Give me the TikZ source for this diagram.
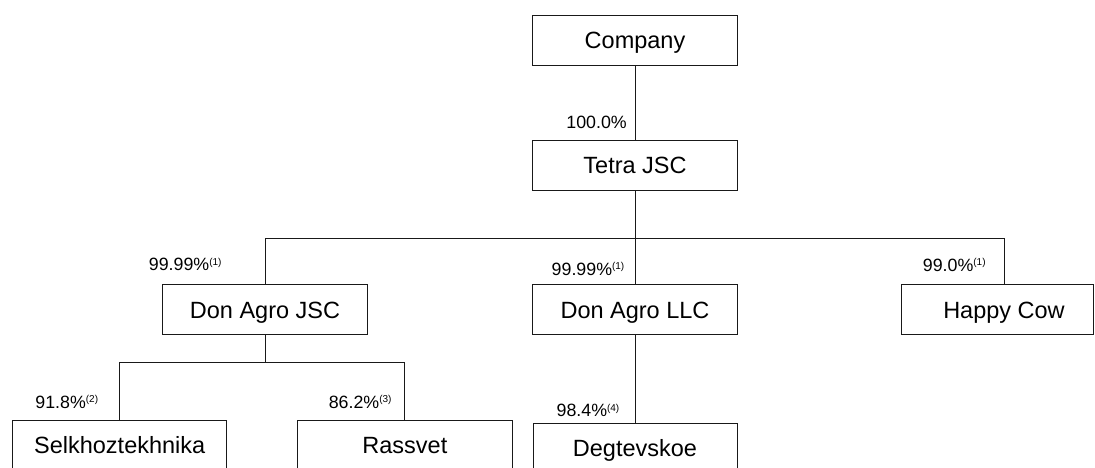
\documentclass[tikz,border=0pt]{standalone}
\usepackage{fontspec}
\setmainfont{Liberation Sans}
\newcommand\fnref[1]{\raisebox{5.5pt}{\fontsize{10}{12}\selectfont(#1)}}
\begin{document}
\begin{tikzpicture}[x=1pt,y=-1pt,
  box/.style={draw=black!90, line width=0.9pt, minimum height=50pt, inner sep=0pt,
    font=\fontsize{23.5}{28}\selectfont, text height=16.8pt, text depth=0pt},
  pct/.style={anchor=base east, inner sep=0pt, font=\fontsize{17.8}{20}\selectfont},
  conn/.style={draw=black!90, line width=0.9pt}]
\useasboundingbox (0,0) rectangle (1095,467);
\clip (0,0) rectangle (1095,467);
% boxes
\node[box, minimum width=205pt] (company) at (635,40) {Company};
\node[box, minimum width=205pt] (tetra) at (635,165) {Tetra JSC};
\node[box, minimum width=205pt] (djsc) at (265,309.7) {Don Agro JSC};
\node[box, minimum width=205pt] (dllc) at (635,309.7) {Don Agro LLC};
\node[box, minimum width=191.6pt] (hc) at (997.5,309.7) {\hspace*{13pt}Happy Cow};
\node[box, minimum width=214pt] (selk) at (119.7,445.5) {Selkhoztekhnika};
\node[box, minimum width=214.3pt] (rass) at (404.9,445.5) {Rassvet};
\node[box, minimum width=204pt] (degt) at (635,448.3) {Degtevskoe};
% junctions
\coordinate (busL) at (265,238.3);
\coordinate (busM) at (635,238.3);
\coordinate (busR) at (1004,238.3);
\coordinate (hctop) at (1004,284.3);
\coordinate (bus2M) at (265,362.3);
\coordinate (bus2L) at (119.7,362.3);
\coordinate (bus2R) at (404.9,362.3);
% connectors
\draw[conn] (company.south) -- (tetra.north);
\draw[conn] (tetra.south) -- (busM);
\draw[conn] (busL) -- (busR);
\draw[conn] (busL) -- (djsc.north);
\draw[conn] (busM) -- (dllc.north);
\draw[conn] (busR) -- (hctop);
\draw[conn] (djsc.south) -- (bus2M);
\draw[conn] (bus2L) -- (bus2R);
\draw[conn] (bus2L) -- (selk.north);
\draw[conn] (bus2R) -- (rass.north);
\draw[conn] (dllc.south) -- (degt.north);
% labels
\node[pct] (l100) at (627,128.5) {100.0\%};
\node[pct] (ljsc) at (221.7,270.6) {99.99\%\fnref{1}};
\node[pct] (lllc) at (624.5,275) {99.99\%\fnref{1}};
\node[pct] (lhc) at (985.8,271) {99.0\%\fnref{1}};
\node[pct] (lselk) at (98.3,408.3) {91.8\%\fnref{2}};
\node[pct] (lrass) at (391.7,408.3) {86.2\%\fnref{3}};
\node[pct] (ldegt) at (619.5,416.7) {98.4\%\fnref{4}};
\end{tikzpicture}
\end{document}
